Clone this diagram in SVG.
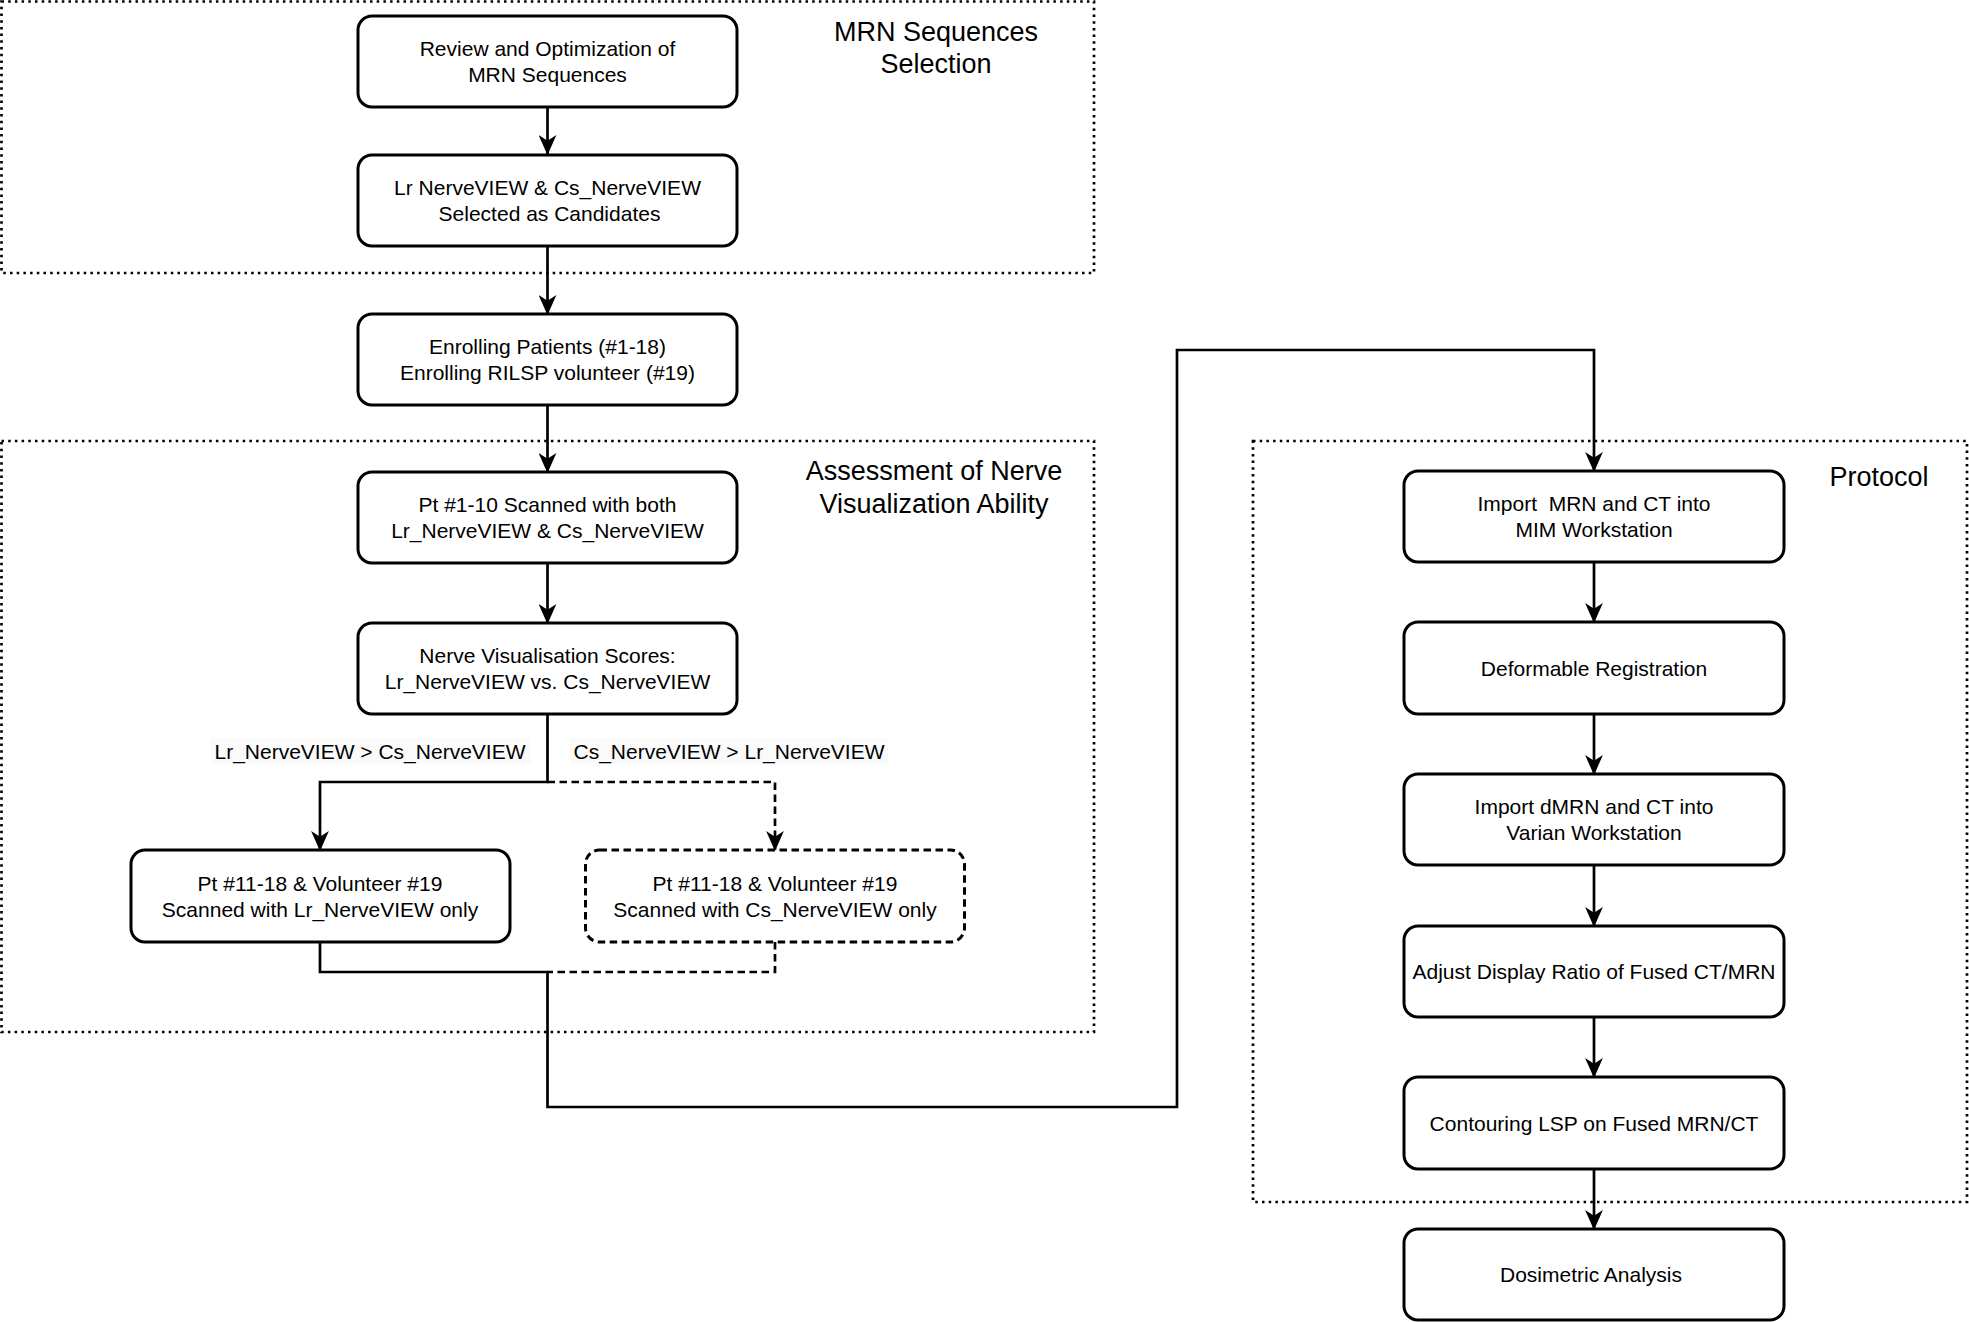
<svg xmlns="http://www.w3.org/2000/svg" width="1969" height="1322" viewBox="0 0 1969 1322">
<defs>
<style>
.grp{fill:none;stroke:#000;stroke-width:2.7;stroke-dasharray:2.5 4.2}
.box{fill:#fff;stroke:#000;stroke-width:3}
.dbox{fill:#fff;stroke:#000;stroke-width:3;stroke-dasharray:7.5 4.5}
.t{font-family:"Liberation Sans",Arial,Helvetica,sans-serif;font-size:21px;fill:#000;text-anchor:middle}
.ttl{font-family:"Liberation Sans",Arial,Helvetica,sans-serif;font-size:27px;fill:#000;text-anchor:middle}
.c{fill:none;stroke:#000;stroke-width:2.7}
.cd{fill:none;stroke:#000;stroke-width:2.7;stroke-dasharray:7.5 4.5}
.lblbg{fill:#fafafa;stroke:none}
</style>
<marker id="arr" markerUnits="userSpaceOnUse" markerWidth="20" markerHeight="18" viewBox="0 0 18 16" refX="17" refY="8" orient="auto">
<path d="M0,0 L18,8 L0,16 L5,8 Z" fill="#000"/>
</marker>
</defs>
<rect width="1969" height="1322" fill="#fff"/>

<g id="groups">
<rect id="grp-mrn" class="grp" x="1.5" y="1.5" width="1092.5" height="271.5"/>
<rect id="grp-assess" class="grp" x="1.5" y="441" width="1092.5" height="591"/>
<rect id="grp-protocol" class="grp" x="1253" y="441" width="714" height="761"/>
<text class="ttl" x="936" y="41">MRN Sequences</text>
<text class="ttl" x="936" y="73">Selection</text>
<text class="ttl" x="934" y="480">Assessment of Nerve</text>
<text class="ttl" x="934" y="513">Visualization Ability</text>
<text class="ttl" x="1879" y="486">Protocol</text>
</g>

<g id="connectors">
<line class="c" x1="547.5" y1="107" x2="547.5" y2="154" marker-end="url(#arr)"/>
<line class="c" x1="547.5" y1="246" x2="547.5" y2="314" marker-end="url(#arr)"/>
<line class="c" x1="547.5" y1="405" x2="547.5" y2="472" marker-end="url(#arr)"/>
<line class="c" x1="547.5" y1="563" x2="547.5" y2="623" marker-end="url(#arr)"/>
<polyline class="c" points="547.5,714 547.5,782 320,782 320,850" marker-end="url(#arr)"/>
<polyline class="cd" points="547.5,782 775,782 775,850" marker-end="url(#arr)"/>
<polyline class="c" points="320,942 320,972 547.5,972 547.5,1107 1177,1107 1177,350 1594,350 1594,471" marker-end="url(#arr)"/>
<polyline class="cd" points="775,942 775,972 547.5,972"/>
<line class="c" x1="1594" y1="562" x2="1594" y2="622" marker-end="url(#arr)"/>
<line class="c" x1="1594" y1="714" x2="1594" y2="774" marker-end="url(#arr)"/>
<line class="c" x1="1594" y1="865" x2="1594" y2="926" marker-end="url(#arr)"/>
<line class="c" x1="1594" y1="1017" x2="1594" y2="1077" marker-end="url(#arr)"/>
<line class="c" x1="1594" y1="1169" x2="1594" y2="1229" marker-end="url(#arr)"/>
<rect class="lblbg" x="211" y="738" width="320" height="26"/>
<text class="t" x="370" y="759">Lr_NerveVIEW &gt; Cs_NerveVIEW</text>
<rect class="lblbg" x="570" y="738" width="318" height="26"/>
<text class="t" x="729" y="759">Cs_NerveVIEW &gt; Lr_NerveVIEW</text>
</g>

<g id="n1"><rect class="box" x="358" y="16" width="379" height="91" rx="14"/>
<text class="t" x="547.5" y="56">Review and Optimization of</text><text class="t" x="547.5" y="82">MRN Sequences</text></g>
<g id="n2"><rect class="box" x="358" y="155" width="379" height="91" rx="14"/>
<text class="t" x="547.5" y="194.5">Lr NerveVIEW &amp; Cs_NerveVIEW</text><text class="t" x="549.5" y="220.5">Selected as Candidates</text></g>
<g id="n3"><rect class="box" x="358" y="314" width="379" height="91" rx="14"/>
<text class="t" x="547.5" y="354">Enrolling Patients (#1-18)</text><text class="t" x="547.5" y="380">Enrolling RILSP volunteer (#19)</text></g>
<g id="n4"><rect class="box" x="358" y="472" width="379" height="91" rx="14"/>
<text class="t" x="547.5" y="512">Pt #1-10 Scanned with both</text><text class="t" x="547.5" y="538">Lr_NerveVIEW &amp; Cs_NerveVIEW</text></g>
<g id="n5"><rect class="box" x="358" y="623" width="379" height="91" rx="14"/>
<text class="t" x="547.5" y="663">Nerve Visualisation Scores:</text><text class="t" x="547.5" y="689">Lr_NerveVIEW vs. Cs_NerveVIEW</text></g>
<g id="n6"><rect class="box" x="131" y="850" width="379" height="92" rx="14"/>
<text class="t" x="320" y="890.5">Pt #11-18 &amp; Volunteer #19</text><text class="t" x="320" y="916.5">Scanned with Lr_NerveVIEW only</text></g>
<g id="n7"><rect class="dbox" x="585.5" y="850" width="379" height="92" rx="14"/>
<text class="t" x="775" y="890.5">Pt #11-18 &amp; Volunteer #19</text><text class="t" x="775" y="916.5">Scanned with Cs_NerveVIEW only</text></g>

<g id="n8"><rect class="box" x="1404" y="471" width="380" height="91" rx="14"/>
<text class="t" x="1594" y="511" xml:space="preserve">Import  MRN and CT into</text><text class="t" x="1594" y="537">MIM Workstation</text></g>
<g id="n9"><rect class="box" x="1404" y="622" width="380" height="92" rx="14"/>
<text class="t" x="1594" y="675.5">Deformable Registration</text></g>
<g id="n10"><rect class="box" x="1404" y="774" width="380" height="91" rx="14"/>
<text class="t" x="1594" y="814">Import dMRN and CT into</text><text class="t" x="1594" y="840">Varian Workstation</text></g>
<g id="n11"><rect class="box" x="1404" y="926" width="380" height="91" rx="14"/>
<text class="t" x="1594" y="979">Adjust Display Ratio of Fused CT/MRN</text></g>
<g id="n12"><rect class="box" x="1404" y="1077" width="380" height="92" rx="14"/>
<text class="t" x="1594" y="1130.5">Contouring LSP on Fused MRN/CT</text></g>
<g id="n13"><rect class="box" x="1404" y="1229" width="380" height="91" rx="14"/>
<text class="t" x="1591" y="1282">Dosimetric Analysis</text></g>
</svg>
